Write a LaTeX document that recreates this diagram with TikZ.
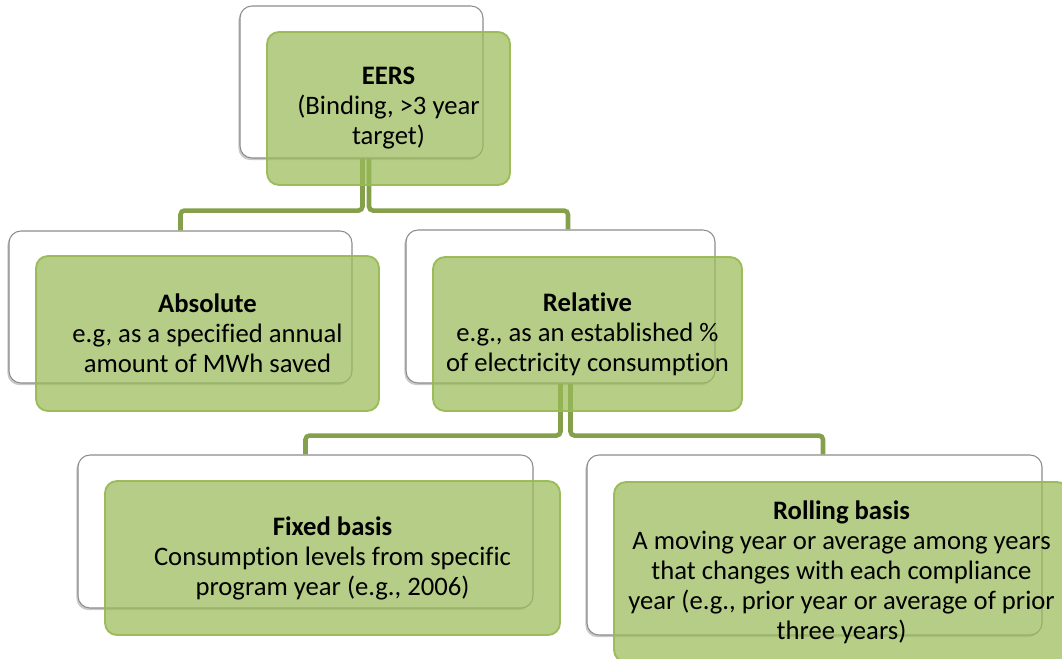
\documentclass[tikz,border=0pt]{standalone}
\usepackage{fontspec}
\setmainfont{Carlito}[Ligatures=NoCommon]
\usepackage{xcolor}
\usepackage{tikz}
\usetikzlibrary{shadows}
\definecolor{olive}{RGB}{155,187,89}
\definecolor{oliveline}{RGB}{152,186,84}
\definecolor{linkgreen}{RGB}{132,160,74}
\tikzset{
  back/.style={rectangle, rounded corners=9pt, draw=black!45, fill=white,
    line width=0.8pt, drop shadow={shadow xshift=-1.2pt, shadow yshift=-1.6pt,
    opacity=.3, fill=black!70}},
  front/.style={rectangle, rounded corners=9pt, draw=oliveline, fill=olive,
    fill opacity=0.72, draw opacity=0.95, text opacity=1, line width=1.4pt,
    align=center, inner sep=0pt, font=\fontsize{20}{22.5}\selectfont},
  sz/.style 2 args={minimum width=#1, minimum height=#2},
  link/.style={draw=linkgreen, line width=3.4pt, rounded corners=3pt},
}
\begin{document}
\begin{tikzpicture}[x=0.75pt, y=-0.75pt]
  \clip (0,0) rectangle (1062,659);
  % white boxes behind
  \node[back, sz={182.25pt}{114pt}] (eersB) at (361.5,82) {};
  \node[back, sz={257.25pt}{114pt}] (absB) at (180.5,307) {};
  \node[back, sz={231.75pt}{114.75pt}] (relB) at (560.5,306.5) {};
  \node[back, sz={341.25pt}{114.75pt}] (fixB) at (305.5,531.5) {};
  \node[back, sz={341.25pt}{135pt}] (rolB) at (814.5,545) {};
  % connectors
  \draw[link] ([shift={(1,0)}]eersB.south) -- ++(0,52) -| (absB.north);
  \draw[link] ([shift={(7.5,0)}]eersB.south) -- ++(0,52) -| ([shift={(7.5,0)}]relB.north);
  \draw[link] (relB.south) -- ++(0,52) -| (fixB.north);
  \draw[link] ([shift={(10,0)}]relB.south) -- ++(0,52) -| ([shift={(8.5,0)}]rolB.north);
  % green boxes
  \node[front, sz={182.25pt}{114.75pt}] (eers) at ([shift={(27,26.5)}]eersB.center)
    {\textbf{EERS}\\(Binding, >3 year\\target)};
  \node[front, sz={257.25pt}{116.25pt}] (abs) at ([shift={(27,26.5)}]absB.center)
    {\textbf{Absolute}\\e.g, as a specified annual\\amount of MWh saved};
  \node[front, sz={231.75pt}{115.5pt}] (rel) at ([shift={(27,27.5)}]relB.center)
    {\textbf{Relative}\\e.g., as an established \%\\of electricity consumption};
  \node[front, sz={341.25pt}{115.5pt}] (fix) at ([shift={(27,26.5)}]fixB.center)
    {\textbf{Fixed basis}\\Consumption levels from specific\\program year (e.g., 2006)};
  \node[front, sz={341.25pt}{135pt}] (rol) at ([shift={(27,27)}]rolB.center)
    {\textbf{Rolling basis}\\A moving year or average among years\\that changes with each compliance\\year (e.g., prior year or average of prior\\three years)};
\end{tikzpicture}
\end{document}
